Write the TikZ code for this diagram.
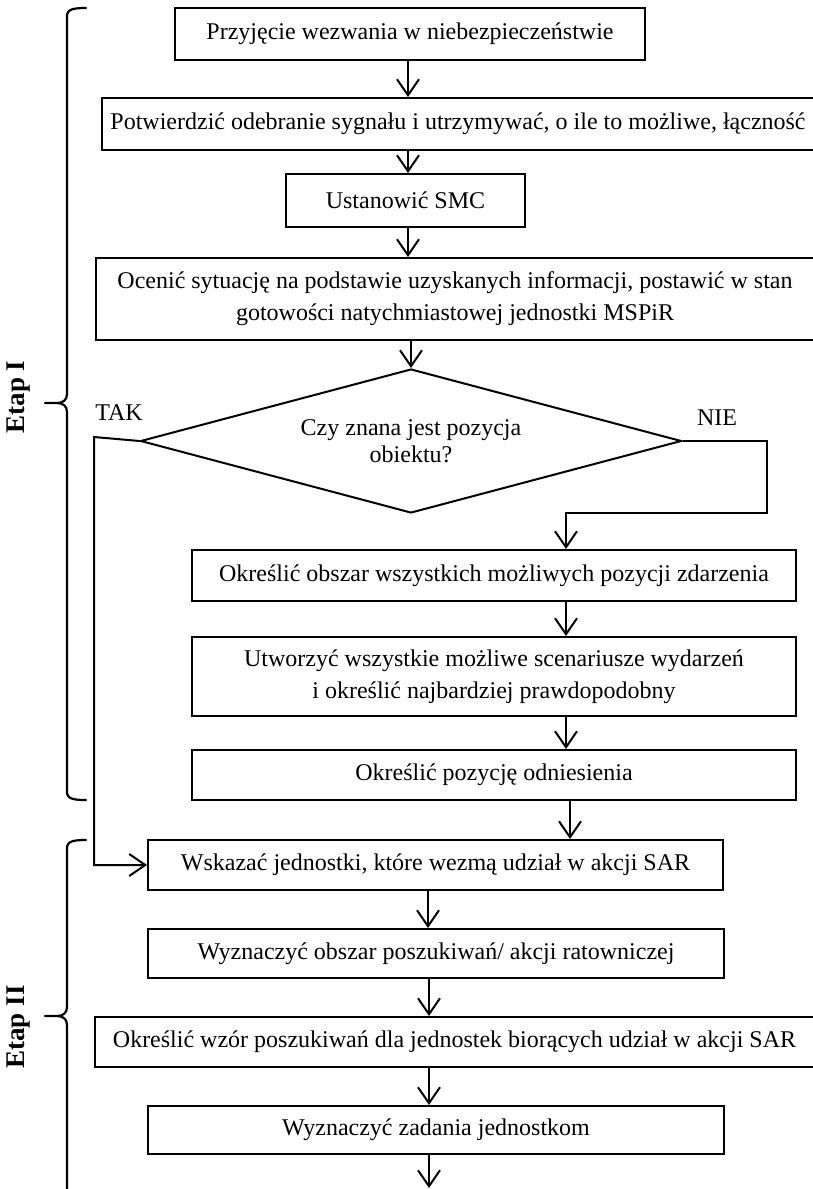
\documentclass[tikz,border=0pt]{standalone}
\usepackage{fontspec}
\setmainfont{Liberation Serif}
\usetikzlibrary{arrows.meta,shapes.geometric}
\begin{document}
\begin{tikzpicture}[x=1pt,y=-1pt,
  every node/.style={font=\fontsize{24}{32}\selectfont},
  box/.style={draw, line width=2pt, rectangle, inner sep=0pt, align=center},
  dec/.style={draw, line width=2pt, diamond, inner sep=0pt, align=center,
    shape aspect=3.76, minimum width=541pt, minimum height=144pt},
  arr/.style={line width=2pt, -{Straight Barb[length=16pt,width=22pt]}},
  brace/.style={line width=2.2pt, line cap=round},
  lbl/.style={inner sep=0pt},
  etap/.style={inner sep=0pt, rotate=90, font=\fontsize{27}{30}\bfseries\selectfont}]
\useasboundingbox (0,0) rectangle (813,1189);

% boxes
\node[box, minimum width=470pt, minimum height=52pt] (b1) at (410,34) {Przyjęcie wezwania w niebezpieczeństwie};
\node[box, minimum width=712pt, minimum height=52pt] (b2) at (458,124) {Potwierdzić odebranie sygnału i utrzymywać, o ile to możliwe, łączność};
\node[box, minimum width=239pt, minimum height=53pt] (b3) at (405.5,200.5) {Ustanowić SMC};
\node[box, minimum width=718pt, minimum height=82pt] (b4) at (455,299) {Ocenić sytuację na podstawie uzyskanych informacji, postawić w stan\\gotowości natychmiastowej jednostki MSPiR};
\node[dec, font=\fontsize{24}{27.5}\selectfont] (dia) at (411,441) {Czy znana jest pozycja\\obiektu?};
\node[box, minimum width=604pt, minimum height=51pt] (b5) at (494,575.5) {Określić obszar wszystkich możliwych pozycji zdarzenia};
\node[box, minimum width=604pt, minimum height=79pt] (b6) at (494,676.5) {Utworzyć wszystkie możliwe scenariusze wydarzeń\\i określić najbardziej prawdopodobny};
\node[box, minimum width=604pt, minimum height=50pt] (b7) at (494,775) {Określić pozycję odniesienia};
\node[box, minimum width=575pt, minimum height=50pt] (b8) at (435.5,865) {Wskazać jednostki, które wezmą udział w akcji SAR};
\node[box, minimum width=576pt, minimum height=49pt] (b9) at (436,953.5) {Wyznaczyć obszar poszukiwań/ akcji ratowniczej};
\node[box, minimum width=719pt, minimum height=50pt] (b10) at (454.5,1042) {Określić wzór poszukiwań dla jednostek biorących udział w akcji SAR};
\node[box, minimum width=576pt, minimum height=48pt] (b11) at (436,1130) {Wyznaczyć zadania jednostkom};

% labels
\node[lbl] (tak) at (119,413) {TAK};
\node[lbl] (nie) at (717,418) {NIE};
\node[etap] (e1) at (19,397) {Etap I};
\node[etap] (e2) at (19,1027) {Etap II};

% connectors
\draw[arr] (408,0 |- b1.south) -- (408,0 |- b2.north);
\draw[arr] (408,0 |- b2.south) -- (408,0 |- b3.north);
\draw[arr] (408,0 |- b3.south) -- (408,0 |- b4.north);
\draw[arr] (411,0 |- b4.south) -- (dia.north);
\coordinate (nr) at (767,441);
\coordinate (nd) at (566,513);
\draw[arr] (dia.east) -- (nr) |- (nd) -- (566,0 |- b5.north);
\coordinate (tl) at (94,437);
\draw[arr] (dia.west) -- (tl) |- (b8.west);
\draw[arr] (566,0 |- b5.south) -- (566,0 |- b6.north);
\draw[arr] (566,0 |- b6.south) -- (566,0 |- b7.north);
\draw[arr] (570,0 |- b7.south) -- (570,0 |- b8.north);
\draw[arr] (428,0 |- b8.south) -- (428,0 |- b9.north);
\draw[arr] (429,0 |- b9.south) -- (429,0 |- b10.north);
\draw[arr] (429,0 |- b10.south) -- (429,0 |- b11.north);
\coordinate (fin) at (429,1188);
\draw[arr] (429,0 |- b11.south) -- (fin);

% braces
\draw[brace] (86,8) .. controls (74,8) and (67,9) .. (67,16)
  -- (67,394) .. controls (67,400) and (63,403) .. (57,403) -- (45,403)
  (57,403) .. controls (63,403) and (67,406) .. (67,412)
  -- (67,792) .. controls (67,799) and (74,800) .. (86,800);
\draw[brace] (86,840) .. controls (74,840) and (67,841) .. (67,848)
  -- (67,1007) .. controls (67,1013) and (63,1016) .. (57,1016) -- (45,1016)
  (57,1016) .. controls (63,1016) and (67,1019) .. (67,1025)
  -- (67,1192);
\end{tikzpicture}
\end{document}
